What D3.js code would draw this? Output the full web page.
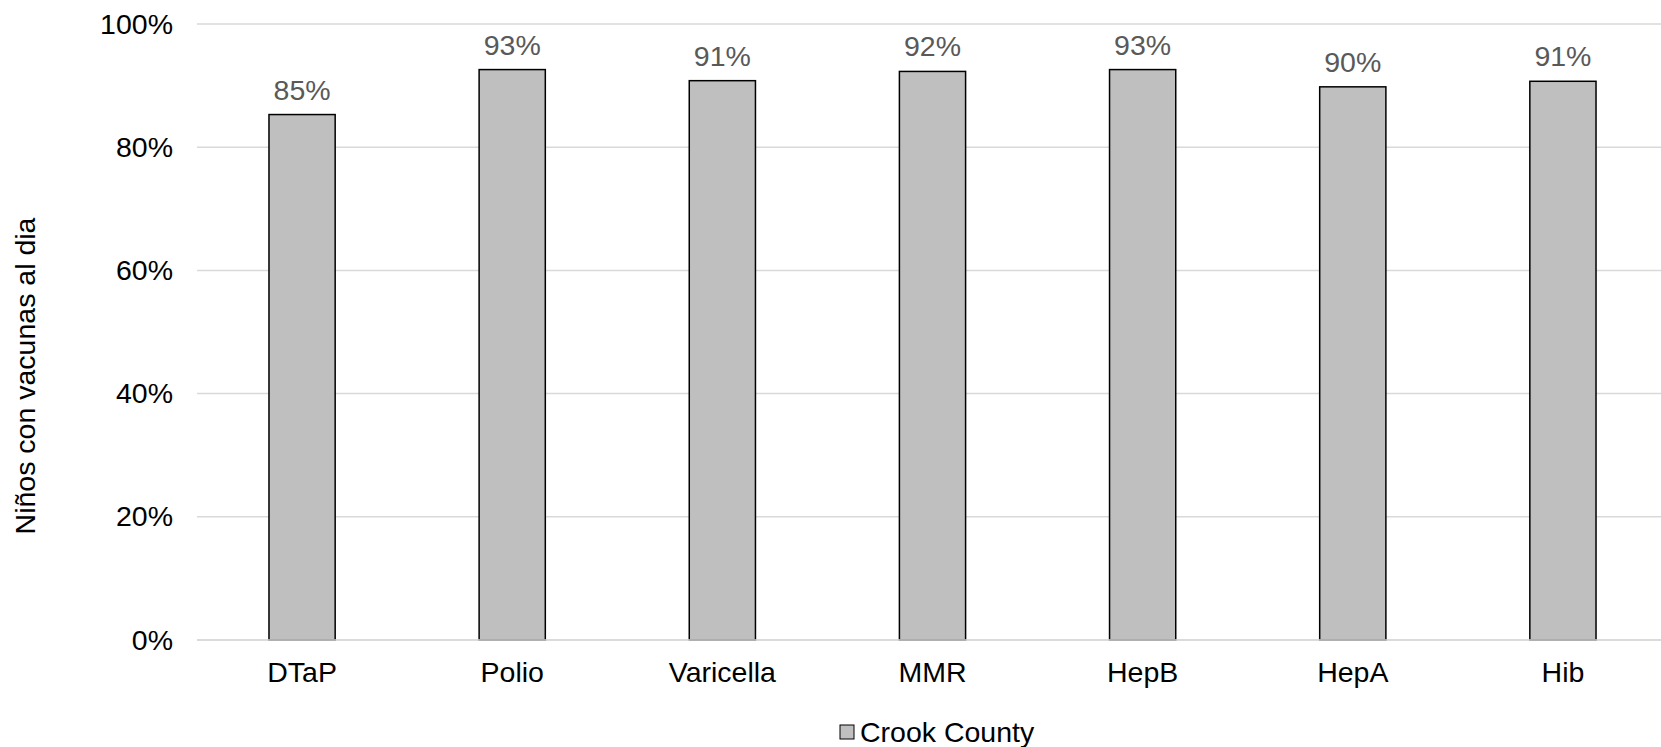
<!DOCTYPE html>
<html><head><meta charset="utf-8">
<script src="https://cdn.jsdelivr.net/npm/d3@7/dist/d3.min.js"></script>
<style>body{margin:0;background:#fff}svg{display:block}text{font-family:"Liberation Sans",Arial,sans-serif}</style>
</head><body><svg id="c" width="1661" height="747"></svg>
<script>
const categories = ["DTaP","Polio","Varicella","MMR","HepB","HepA","Hib"];
const values = [0.853, 0.926, 0.908, 0.923, 0.926, 0.898, 0.907];
const valueLabels = ["85%","93%","91%","92%","93%","90%","91%"];
const yTicks = [0, 0.2, 0.4, 0.6, 0.8, 1.0];
const seriesName = "Crook County";
const yTitle = "Niños con vacunas al dia";

const FS = 28.5;
const svg = d3.select("#c");
const W = 1661, H = 747;
const m = {top: 24, right: -7, bottom: 107, left: 197};
const x = d3.scaleBand().domain(categories).range([m.left, W - m.right]).paddingInner(0.685).paddingOuter(0.3425);
const y = d3.scaleLinear().domain([0, 1]).range([H - m.bottom, m.top]);

// gridlines
svg.append("g").selectAll("line").data(yTicks).join("line")
  .attr("x1", m.left).attr("x2", W)
  .attr("y1", d => y(d)).attr("y2", d => y(d))
  .attr("stroke", "#d9d9d9").attr("stroke-width", 1.5);

// y axis labels
const yAxis = d3.axisLeft(y).tickValues(yTicks).tickFormat(d3.format(".0%")).tickSize(0).tickPadding(24);
const gy = svg.append("g").attr("transform", `translate(${m.left},0)`).call(yAxis);
gy.select(".domain").remove();
gy.selectAll("text").attr("font-size", FS).attr("fill", "#000").attr("font-family", "Liberation Sans, Arial, sans-serif");

// bars
svg.append("g").selectAll("rect").data(values).join("rect")
  .attr("x", (d, i) => x(categories[i]))
  .attr("width", x.bandwidth())
  .attr("y", d => y(d))
  .attr("height", d => y(0) - y(d))
  .attr("fill", "#bfbfbf").attr("stroke", "#000").attr("stroke-width", 1.5);

// value labels
svg.append("g").selectAll("text").data(values).join("text")
  .attr("x", (d, i) => x(categories[i]) + x.bandwidth() / 2)
  .attr("y", d => y(d) - 15)
  .attr("text-anchor", "middle").attr("font-size", FS).attr("fill", "#595959")
  .text((d, i) => valueLabels[i]);

// x axis line
svg.append("line").attr("x1", m.left).attr("x2", W)
  .attr("y1", y(0)).attr("y2", y(0)).attr("stroke", "#d9d9d9").attr("stroke-width", 1.5);

// x labels
const xAxis = d3.axisBottom(x).tickSize(0).tickPadding(0);
const gx = svg.append("g").attr("transform", `translate(0,${y(0)})`).call(xAxis);
gx.select(".domain").remove();
gx.selectAll("text").attr("dy", null).attr("y", 42).attr("font-size", FS).attr("fill", "#000").attr("font-family", "Liberation Sans, Arial, sans-serif");

// y title
svg.append("text").attr("transform", "translate(35,376) rotate(-90)")
  .attr("text-anchor", "middle").attr("font-size", FS).attr("fill", "#000").text(yTitle);

// legend
const lg = svg.append("g");
lg.append("rect").attr("x", 840).attr("y", 725).attr("width", 14).attr("height", 14)
  .attr("fill", "#bfbfbf").attr("stroke", "#000").attr("stroke-width", 1);
lg.append("text").attr("x", 860).attr("y", 742).attr("font-size", FS).attr("fill", "#000").text(seriesName);
</script></body></html>
